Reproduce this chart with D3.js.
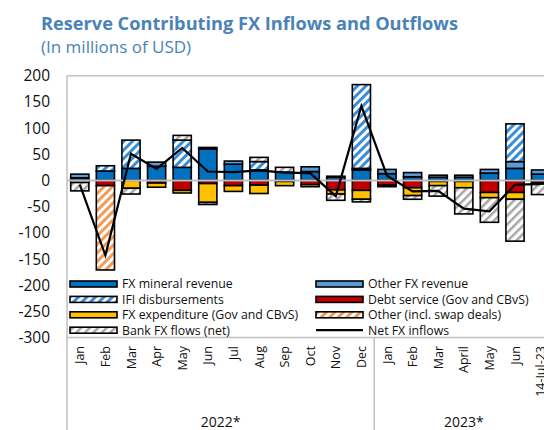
<!DOCTYPE html>
<html>
<head>
<meta charset="utf-8">
<script src="https://cdn.jsdelivr.net/npm/d3@7"></script>
<style>
  html, body { margin: 0; padding: 0; background: #fff; }
  svg { display: block; font-family: "Open Sans", "Noto Sans", sans-serif; }
</style>
</head>
<body>
<svg id="chart" width="544" height="430"></svg>
<script>
// Monthly reserve-contributing FX flows, millions of USD
const months = ["Jan","Feb","Mar","Apr","May","Jun","Jul","Aug","Sep","Oct","Nov","Dec",
                "Jan","Feb","Mar","April","May","Jun","14-Jul-23"];
const years = [{label: "2022*", from: 0, to: 12}, {label: "2023*", from: 12, to: 19}];

const mineralRevenue = [5, 18, 23, 27, 25, 60, 31, 20, 16, 17, 6, 20, 13, 7, 6, 6, 14, 23, 12];
const otherFxRevenue = [7, 0, 0, 8, 0, 3, 6, 0, 0, 9, 2, 3, 8, 8, 4, 4, 7, 13, 8];
const ifiDisbursements = [0, 10, 54, 0, 52, 0, 0, 16, 0, 0, 0, 160, 0, 0, 0, 0, 0, 72, 0];
const bankFxFlows = [-16, 0, -11, 0, 9, -4, 0, 8, 9, 0, -12, -5, 0, -7, -20, -50, -47, -80, -20];
const debtService = [0, -10, 0, -5, -19, -6, -10, -9, -2, -8, -18, -19, -9, -14, -2, -2, -23, -23, -4];
const fxExpenditure = [-4, 0, -15, -8, -5, -36, -11, -16, -8, -4, -8, -17, -3, -15, -8, -12, -10, -13, -3];
const otherSwap = [0, -161, 0, 0, 0, 0, 0, 0, 0, 0, 0, 0, 0, 0, 0, 0, 0, 0, 0];
const netFxInflows = [-8, -143, 51, 22, 62, 17, 16, 19, 15, 14, -30, 142, 9, -21, -20, -54, -59, -8, -7];

const yTicks = [200, 150, 100, 50, 0, -50, -100, -150, -200, -250, -300];

// Series in stacking order (positives stack up from zero, negatives down)
const series = [
  {key: "mineral", name: "FX mineral revenue", values: mineralRevenue, fill: "#0070C0"},
  {key: "otherfx", name: "Other FX revenue", values: otherFxRevenue, fill: "#5B9BD5"},
  {key: "ifi", name: "IFI disbursements", values: ifiDisbursements, fill: "url(#hatch-ifi)"},
  {key: "debt", name: "Debt service (Gov and CBvS)", values: debtService, fill: "#C00000"},
  {key: "exp", name: "FX expenditure (Gov and CBvS)", values: fxExpenditure, fill: "#FFC000"},
  {key: "other", name: "Other (incl. swap deals)", values: otherSwap, fill: "url(#hatch-other)"},
  {key: "bank", name: "Bank FX flows (net)", values: bankFxFlows, fill: "url(#hatch-bank)"}
];

const svg = d3.select("#chart");
const W = 544, H = 430;
const plot = {left: 67, top: 75.7, bottom: 337.5};
const band = 25.6;

const x = d3.scaleBand().domain(d3.range(months.length))
  .range([plot.left, plot.left + band * months.length]).paddingInner(0.29).paddingOuter(0.145);
const y = d3.scaleLinear().domain([-300, 200]).range([plot.bottom, plot.top]);

// hatch patterns
const defs = svg.append("defs");
function hatch(id, color, stripe, size) {
  const p = defs.append("pattern").attr("id", id).attr("patternUnits", "userSpaceOnUse")
    .attr("width", size).attr("height", size).attr("patternTransform", "rotate(45)");
  p.append("rect").attr("width", size).attr("height", size).attr("fill", "#fff");
  p.append("rect").attr("width", stripe).attr("height", size).attr("fill", color);
}
hatch("hatch-ifi", "#3A8DD8", 3, 6);
hatch("hatch-other", "#F39A55", 3, 6);
hatch("hatch-bank", "#A6A6A6", 2.5, 6);

const gridColor = "#BFBFBF";

// y tick labels
svg.append("g").selectAll("text").data(yTicks).join("text")
  .attr("x", 50).attr("y", d => y(d)).attr("dy", "0.36em")
  .attr("text-anchor", "end").attr("font-size", 15.5).attr("fill", "#111")
  .text(d => d);

// stacked segments
const stacks = months.map(() => ({pos: 0, neg: 0}));
const segs = [];
series.forEach(s => {
  s.values.forEach((v, i) => {
    if (!v) return;
    let y0, y1;
    if (v > 0) { y0 = stacks[i].pos; y1 = y0 + v; stacks[i].pos = y1; }
    else { y0 = stacks[i].neg; y1 = y0 + v; stacks[i].neg = y1; }
    segs.push({s, i, y0, y1});
  });
});

svg.append("g").selectAll("rect").data(segs).join("rect")
  .attr("x", d => x(d.i)).attr("width", x.bandwidth())
  .attr("y", d => y(Math.max(d.y0, d.y1)))
  .attr("height", d => Math.abs(y(d.y0) - y(d.y1)))
  .attr("fill", d => d.s.fill)
  .attr("stroke", "#000").attr("stroke-width", 1.6);

// frame lines
const xRight = W + 20;
svg.append("line").attr("x1", plot.left).attr("x2", xRight).attr("y1", plot.top).attr("y2", plot.top)
  .attr("stroke", gridColor).attr("stroke-width", 1.5);
svg.append("line").attr("x1", plot.left).attr("x2", xRight).attr("y1", y(0)).attr("y2", y(0))
  .attr("stroke", gridColor).attr("stroke-width", 2);
svg.append("line").attr("x1", plot.left).attr("x2", xRight).attr("y1", plot.bottom).attr("y2", plot.bottom)
  .attr("stroke", gridColor).attr("stroke-width", 1.5);
[0, 12].forEach(k => {
  const xx = plot.left + band * k;
  svg.append("line").attr("x1", xx).attr("x2", xx)
    .attr("y1", k === 0 ? plot.top : plot.bottom).attr("y2", H)
    .attr("stroke", gridColor).attr("stroke-width", 1.5);
});

// net FX inflows line
svg.append("path").datum(netFxInflows)
  .attr("d", d3.line().x((d, i) => x(i) + x.bandwidth() / 2).y(d => y(d)))
  .attr("fill", "none").attr("stroke", "#000").attr("stroke-width", 2.2);

// legend
const legendRows = [
  [series[0], series[1]],
  [series[2], series[3]],
  [series[4], series[5]],
  [series[6], {name: "Net FX inflows", line: true}]
];
const lg = svg.append("g");
lg.append("rect").attr("x", 68).attr("y", 275).attr("width", 470).attr("height", 61).attr("fill", "#fff");
const cols = [{sx: 70, tx: 122}, {sx: 316, tx: 368}];
legendRows.forEach((row, r) => {
  const cy = 284 + r * 15.4;
  row.forEach((item, c) => {
    const col = cols[c];
    if (item.line) {
      lg.append("line").attr("x1", col.sx).attr("x2", col.sx + 47).attr("y1", cy).attr("y2", cy)
        .attr("stroke", "#000").attr("stroke-width", 2.2);
    } else {
      lg.append("rect").attr("x", col.sx).attr("y", cy - 3).attr("width", 47).attr("height", 6)
        .attr("fill", item.fill).attr("stroke", "#000").attr("stroke-width", 1.6);
    }
    lg.append("text").attr("x", col.tx).attr("y", cy).attr("dy", "0.36em")
      .attr("font-size", 12.3).attr("fill", "#111").text(item.name);
  });
});

// month labels (rotated)
svg.append("g").selectAll("text").data(months).join("text")
  .attr("transform", (d, i) => `translate(${x(i) + x.bandwidth() / 2 + 4.5},346) rotate(-90)`)
  .attr("text-anchor", "end").attr("font-size", 12.5).attr("fill", "#111")
  .text(d => d);

// year group labels
svg.append("g").selectAll("text").data(years).join("text")
  .attr("x", d => plot.left + band * (d.from + d.to) / 2)
  .attr("y", 427).attr("text-anchor", "middle").attr("font-size", 14).attr("fill", "#111")
  .text(d => d.label);

// title
svg.append("text").attr("x", 41).attr("y", 30).attr("font-size", 18.2).attr("font-weight", "bold")
  .attr("fill", "#4A83B8").text("Reserve Contributing FX Inflows and Outflows");
svg.append("text").attr("x", 41).attr("y", 53).attr("font-size", 17)
  .attr("fill", "#4A83B8").text("(In millions of USD)");
</script>
</body>
</html>
